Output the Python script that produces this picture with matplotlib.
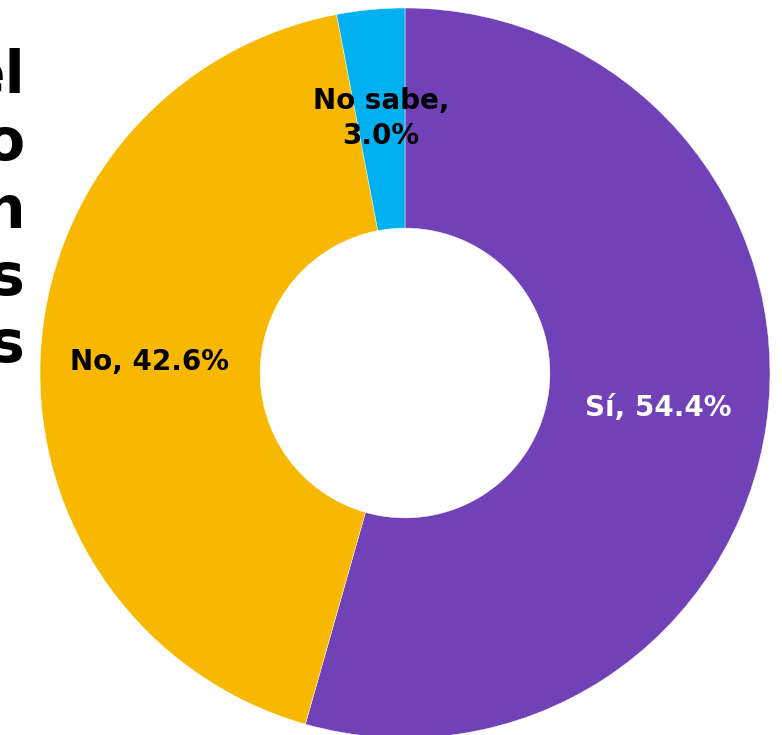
import matplotlib
matplotlib.use("Agg")
import matplotlib.pyplot as plt

categories = ["Sí", "No", "No sabe"]
values = [54.4, 42.6, 3.0]
colors = ["#7141B8", "#F9B800", "#00B0F0"]
label_colors = ["white", "black", "black"]
label_texts = ["Sí, 54.4%", "No, 42.6%", "No sabe,\n3.0%"]
title_fragments = ["el", "o", "n", "s", "s"]

W, H = 782, 735
fig = plt.figure(figsize=(W / 100, H / 100), dpi=100)
ax = fig.add_axes([40 / W, -3 / H, 730 / W, 730 / H])

wedges, texts = ax.pie(
    values,
    colors=colors,
    startangle=90,
    counterclock=False,
    labels=label_texts,
    labeldistance=0.70,
    radius=1.0,
    wedgeprops=dict(width=0.603, edgecolor="white", linewidth=0.3),
    textprops=dict(fontsize=20, fontweight="bold", family="DejaVu Sans"),
)
for t, c in zip(texts, label_colors):
    t.set_color(c)
    t.set_ha("center")
    t.set_va("center")
    t.set_linespacing(1.35)

ax.set_xlim(-1, 1)
ax.set_ylim(-1, 1)
ax.set_aspect("equal")
ax.axis("off")

baselines = [93, 160, 228, 295, 362]
for frag, yb in zip(title_fragments, baselines):
    fig.text(25 / W, 1 - yb / H, frag, ha="right", va="baseline",
             fontsize=42, fontweight="bold", family="DejaVu Sans", color="black")

fig.savefig("out.png", dpi=100)
